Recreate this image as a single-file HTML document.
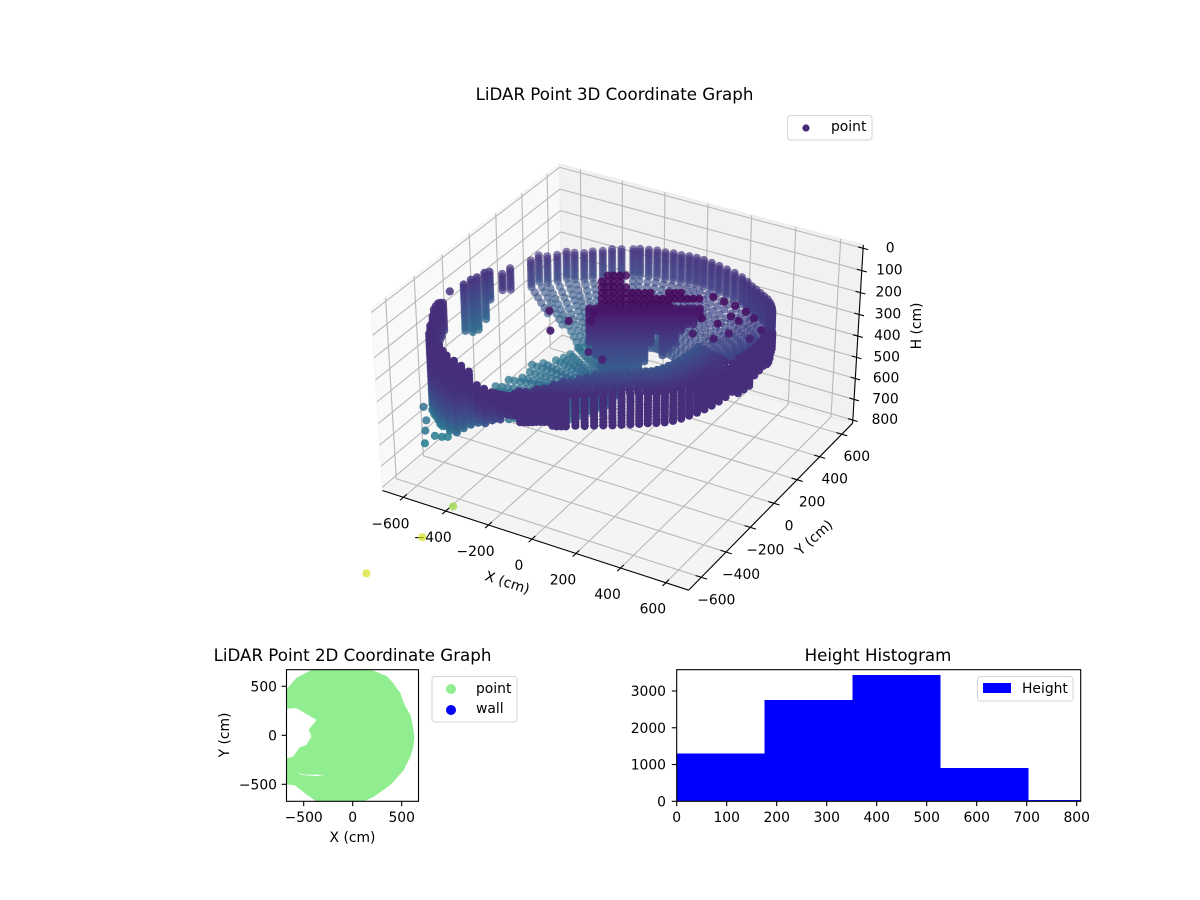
<!DOCTYPE html>
<html lang="en">
<head>
<meta charset="utf-8">
<title>LiDAR Point Graphs</title>
<style>
html,body{margin:0;padding:0;background:#fff;}
svg{display:block;}
text{font-family:"DejaVu Sans","Liberation Sans",sans-serif;fill:#000;}
.t{font-size:16.67px;}
.l{font-size:13.89px;}
</style>
</head>
<body>
<svg id="fig" xmlns="http://www.w3.org/2000/svg" width="1200" height="900" viewBox="0 0 1200 900">
  <defs>
    <clipPath id="clip2d"><rect x="286.5" y="669.7" width="132" height="131.6"/></clipPath>
    <clipPath id="cliphist"><rect x="676.7" y="669.7" width="404" height="131.6"/></clipPath>
  </defs>
  <g id="g3dback"></g>
  <g id="g3dticks"></g>
  <g id="g3dpoints"></g>
  <text class="t" x="614.5" y="100" text-anchor="middle">LiDAR Point 3D Coordinate Graph</text>
  <text class="l" text-anchor="middle" transform="translate(506,587) rotate(18)">X (cm)</text>
  <text class="l" text-anchor="middle" transform="translate(817,541) rotate(-42)">Y (cm)</text>
  <text class="l" text-anchor="middle" transform="translate(921,326) rotate(-90)">H (cm)</text>
  <g>
    <rect x="787.5" y="115.5" width="84.5" height="24.5" rx="3" fill="#fff" fill-opacity=".8" stroke="#d5d5d5"/>
    <circle cx="806" cy="128" r="3.6" fill="#472c7b"/>
    <text class="l" x="831" y="131">point</text>
  </g>

  <g id="g2d"></g>
  <text class="t" x="352.5" y="661" text-anchor="middle">LiDAR Point 2D Coordinate Graph</text>
  <text class="l" x="352.5" y="842" text-anchor="middle">X (cm)</text>
  <text class="l" text-anchor="middle" transform="translate(229,735) rotate(-90)">Y (cm)</text>
  <g>
    <rect x="432" y="676.5" width="85" height="45.5" rx="3" fill="#fff" stroke="#d5d5d5"/>
    <circle cx="451" cy="689" r="5" fill="#90ee90"/>
    <circle cx="451" cy="710" r="5" fill="#0000ff"/>
    <text class="l" x="476" y="693">point</text>
    <text class="l" x="476" y="713">wall</text>
  </g>

  <g id="ghist"></g>
  <text class="t" x="878" y="661" text-anchor="middle">Height Histogram</text>
  <g>
    <rect x="977.5" y="676.5" width="95.5" height="24.5" rx="3" fill="#fff" fill-opacity=".9" stroke="#d5d5d5"/>
    <rect x="983" y="683" width="28" height="10" fill="#0000ff"/>
    <text class="l" x="1022" y="693">Height</text>
  </g>
</svg>
<script>
// ---------- 3D tick values ----------
const xTicks3d = [-600,-400,-200,0,200,400,600];
const yTicks3d = [-600,-400,-200,0,200,400,600];
const hTicks3d = [0,100,200,300,400,500,600,700,800];

// ---------- rim / wall scans (polar, cm) ----------
const depthSteps = [0,14,28,42,56,70,84,98,112,126,140,154,168,182,196,210,224,238,252,266,280,294,308,322,336,350,364];
const wallAz = [27,24,21,18,15,12,9,6,3,0,-3,-6,-9,-12,-15,-18,-21,-24,-27,-30,-33,-36,-39,-42,-45,-48,-51,-54,-57,-60,-63,-66,-69,-72,-75,-78,-81,-84,-87,-90,-93,-96,-99,-102,-105,-107.5,-110,-112.5,-115,-117.5,-120,-122.5,-125,-127.5,-130,-132.5,-135,-137.5,-140,-142.5,-145,-147.5,-150,-152.5,-155,-157.5,-160,-79.5,-82.5,-85.5,-88.5,-91.5,-94.5,-97.5,-100.5,-103.5];
const wallR = [585,590,595,600,605,610,615,622,630,630,630,630,630,630,630,630,630,630,630,630,631,631,632,632,632,634,636,640,644,648,652,656,660,668,672,680,684,680,678,676,680,682,686,692,700,710,720,732,745,757,770,770,770,768,765,765,765,762,760,752,745,740,735,730,725,722,718,682,682,679,677,678,681,684,689,696];
const wallTop = [225,205,185,165,150,130,112,95,85,76,80,85,88,90,92,100,110,118,125,131,136,140,145,148,149,146,142,140,138,137,137,137,138,139,140,145,150,155,165,178,188,198,205,210,212,206,200,150,135,125,115,112,105,115,130,160,170,165,165,150,160,145,132,135,141,155,173,147,152,160,171,183,193,201,207,211];
const wallCount = [3,4,6,6,6,7,9,10,10,10,10,10,12,12,12,10,10,10,10,10,10,10,10,10,10,10,10,10,10,10,10,10,10,10,10,10,10,9,9,9,9,7,7,9,10,12,13,18,21,24,25,25,27,27,26,24,24,24,24,25,27,19,16,15,13,12,10,10,10,9,9,9,9,7,7,9];
const wallTone = [.13,.13,.13,.13,.13,.13,.13,.13,.13,.13,.13,.13,.13,.13,.13,.13,.13,.13,.13,.13,.13,.13,.13,.13,.13,.13,.13,.13,.13,.13,.13,.13,.13,.13,.13,.13,.13,.14,.14,.14,.14,.14,.15,.2,.24,.27,.3,.32,.34,.36,.38,.38,.4,.4,.4,.4,.4,.4,.4,.4,.42,.25,.2,.2,.18,.18,.17,.13,.14,.14,.14,.14,.14,.15,.17,.22];
// inward band behind the front wall
const bandAz = [-18,-21,-24,-27,-30,-33,-36,-39,-42,-45,-48,-51,-54,-57,-60,-63,-66,-69,-72,-75,-78,-81,-84,-87,-90,-93,-96,-99];
const bandCount = [7,7,7,7,7,7,7,7,7,7,7,7,7,7,7,7,7,7,7,6,6,5,5,4,3,3,2,2];
const bandDr = [40,65,90,115,140,165,190];
const bandTone = [.14,.15,.17,.19,.21,.23,.25];

// ---------- back fan + dome scans ----------
const fanDr = [0,0,0,0,0,0,0,0,0,0,0,30,60,90,120,150,180,210,240,270,300,330,360];
const fanDH = [0,12.5,25,37.5,50,62.5,75,87.5,100,112.5,125,135,145,155,165,175,185,195,205,215,225,235,245];
const fanAz = [163,159,148,144.4,142,139,136,134,131.4,128.8,125.8,122.9,120,116.2,114,111,108,105,102,99,96,93,90,87,84,81,78,75,72,69,66,63,60,57,54,51,48,45,42,39,36,33,30];
const fanR = [715,725,800,834,825,822,832,808,786,782,770,772,762,747,739,723,710,700,695,688,685,680,675,678,680,684,690,695,690,682,676,670,665,660,652,642,632,622,612,600,590,585,585];
const fanTop = [262,258,300,305,312,312,310,306,300,294,288,282,277,268,261,254,247,245,242,240,236,233,231,236,240,246,252,260,265,268,266,263,260,255,250,243,236,230,220,210,200,185,178];
const fanCount = [7,9,16,19,23,23,23,23,23,23,23,23,23,23,23,23,23,23,23,23,23,23,23,23,23,23,23,23,23,23,23,23,23,23,23,23,19,19,19,17,17,17,13];
const fanTone = [.2,.22,.33,.36,.36,.36,.36,.36,.36,.35,.35,.34,.34,.33,.32,.32,.31,.3,.3,.28,.28,.26,.26,.26,.26,.25,.25,.25,.24,.24,.24,.24,.24,.24,.24,.24,.24,.24,.24,.24,.24,.24,.24];

// ---------- floor scans ----------
const floorAz = [120,126,132,138,144,150,156,162,168,174,180,186,192,198,204,210,216,222,228,234,240,246];
const floorOut = [470,470,465,455,440,420,402,400,430,450,430,440,480,520,500,495,490,480,470,390,330,280];
const floorH = [545,540,550,545,540,548,542,538,546,540,545,550,542,548,540,545,550,542,548,545,540,545];
const floorStep = [0,25,50,75,100,125,150,175,200,225,250,275,300,325,350,375,400,425];

// ---------- central body columns (cm) ----------
const pillarX = [-84,-63,-42,-21,-1,20,41,61,82,103,124,144,165,186,206,227,248,268,289,-611,-607,-597,-590,-578];
const pillarY = [-106,-94,-82,-70,-58,-46,-34,-22,-10,2,14,26,38,50,62,74,86,98,110,-188,-141,-113,-67,-49];
const pillarTop = [100,100,100,100,100,100,100,100,100,100,100,100,100,100,100,100,100,100,100,100,100,100,100,100];
const pillarCount = [12,16,20,22,22,22,22,20,20,18,12,8,16,14,12,8,6,6,4,16,18,18,16,10];
const pillarStep = 14;

// ---------- dark cluster near the sensor ----------
const clusterX = [-154,-133,-113,-92,-151,-130,-110,-89,-128,-107,-87,-66,-45,-104,-83,-63,-42,-21,-1,20,41,61,124,144,165,-81,-60,-40,-19,2,22,43,64,85,105,126,147,167,188,209,229,250,-58,-37,-17,4,25,45,66,87,108,128,149,170];
const clusterY = [159,171,183,195,106,118,130,142,66,78,90,102,114,26,38,50,62,74,86,98,110,122,158,170,182,-15,-3,9,21,33,45,57,69,81,93,105,117,129,141,153,165,177,-56,-44,-32,-20,-8,4,16,28,40,52,64,76];

// ---------- stray returns ----------
const strayX = [290,345,398,456,507,577,465,424,406,333,479,448,359,569,-210,-104,-127,-27,-48,83,157,-629];
const strayY = [218,205,198,178,147,80,101,116,41,47,-4,-70,-74,0,-198,-229,-328,-189,-130,-395,-418,-262];
const strayH = [100,100,100,100,100,100,100,100,100,100,100,100,100,100,100,100,100,100,100,100,100,100];
const strayTone = [.03,.03,.04,.05,.06,.08,.06,.05,.05,.05,.08,.08,.08,.1,.06,.06,.08,.06,.05,.1,.1,.15];
const tealX = [-652,-609,-587,-548,-498,-494,-466,-446];
const tealY = [-451,-453,-531,-598,-678,-612,-605,-593];
const tealH = [540,540,540,540,540,540,540,540];
const tealTone = [.36,.36,.38,.38,.42,.42,.42,.42];
const farX = [-278,-340,-398];
const farY = [-827,-958,-1261];
const farH = [680,770,780];
const farTone = [.84,.94,.94];

// ---------- 2D footprint ----------
const hullX = [-404,178,262,349,415,486,517,538,589,612,630,619,589,551,520,466,400,313,212,110,-370,-473,-592,-678,-678,-610,-541,-473,-421,-449,-370,-575,-678,-678,-622,-575,-486];
const hullY = [675,675,639,603,531,431,344,295,209,105,-14,-116,-219,-293,-356,-415,-493,-558,-630,-675,-675,-603,-510,-500,-236,-219,-123,-99,-14,55,158,277,270,466,531,586,633];
const slitX = [-558,-524,-370,-284,-370,-507];
const slitY = [-381,-405,-415,-405,-401,-401];
const ticks2d = [-500,0,500];

// ---------- histogram ----------
const binEdges = [0,176,352,528,704,880];
const binCounts = [1305,2755,3435,906,35];
const histXTicks = [0,100,200,300,400,500,600,700,800];
const histYTicks = [0,1000,2000,3000];

// ---------- helpers ----------
const NS = 'http://www.w3.org/2000/svg';
const fmt = v => v < 0 ? '\u2212' + Math.abs(v) : String(v);
function line(parent, x1, y1, x2, y2, stroke, w, name) {
  const el = document.createElementNS(NS, 'line');
  el.setAttribute('x1', x1.toFixed(2));
  el.setAttribute('y1', y1.toFixed(2));
  el.setAttribute('x2', x2.toFixed(2));
  el.setAttribute('y2', y2.toFixed(2));
  el.setAttribute('stroke', stroke);
  el.setAttribute('stroke-width', w);
  
  
  parent.appendChild(el);
  return el;
}
function label(parent, x, y, str, anchor, name) {
  const el = document.createElementNS(NS, 'text');
  el.setAttribute('class', 'l');
  el.setAttribute('x', x.toFixed(2));
  el.setAttribute('y', y.toFixed(2));
  el.setAttribute('text-anchor', anchor);
  
  
  el.textContent = str;
  parent.appendChild(el);
  return el;
}
function poly(parent, pts, fill, stroke, name) {
  const el = document.createElementNS(NS, 'polygon');
  el.setAttribute('points', pts.map(p => p[0].toFixed(2) + ',' + p[1].toFixed(2)).join(' '));
  el.setAttribute('fill', fill);
  el.setAttribute('stroke', stroke);
  
  
  parent.appendChild(el);
  return el;
}
const stops = [[68,1,84],[72,36,117],[65,68,135],[53,95,141],[42,120,142],[33,145,140],[34,168,132],[68,191,112],[122,209,81],[189,223,38],[253,231,37]];
function viridis(t) {
  t = Math.max(0, Math.min(.9999, t)) * 10;
  const i = Math.floor(t), f = t - i, a = stops[i], b = stops[i + 1];
  return 'rgb(' + [0,1,2].map(k => Math.round(a[k] + (b[k] - a[k]) * f)).join(',') + ')';
}

// ---------- 3D axis functions ----------
const XMAX = 700, HLOW = -15, HHIGH = 815, HALF = .5714, HALFZ = .4;
function proj(X, Y, H) {
  const qx = X / XMAX * HALF, qy = Y / XMAX * HALF;
  const qz = ((HLOW + HHIGH) / 2 - H) / ((HHIGH - HLOW) / 2) * HALFZ;
  const xv = .866025 * qx + .5 * qy;
  const yv = -.28679 * qx + .49673 * qy + .81915 * qz;
  const d = .40958 * qx - .70942 * qy + .57358 * qz;
  const p = 1 / (10 - d);
  return { x: 621.5 + 3080 * xv * p, y: 368.4 - 2743 * yv * p, d: d };
}
function polar(az, r) {
  const a = az * Math.PI / 180;
  return [r * Math.cos(a), r * Math.sin(a)];
}

// ---------- panes and grid ----------
const back = document.getElementById('g3dback');
const P = (X, Y, H) => { const q = proj(X, Y, H); return [q.x, q.y]; };
poly(back, [P(-XMAX,-XMAX,HHIGH),P(XMAX,-XMAX,HHIGH),P(XMAX,XMAX,HHIGH),P(-XMAX,XMAX,HHIGH)], '#f4f4f4', '#f0f0f0', 'floor-pane');
poly(back, [P(-XMAX,-XMAX,HHIGH),P(-XMAX,XMAX,HHIGH),P(-XMAX,XMAX,HLOW),P(-XMAX,-XMAX,HLOW)], '#f9f9f9', '#f3f3f3', 'x-wall-pane');
poly(back, [P(-XMAX,XMAX,HHIGH),P(XMAX,XMAX,HHIGH),P(XMAX,XMAX,HLOW),P(-XMAX,XMAX,HLOW)], '#f1f1f1', '#ebebeb', 'y-wall-pane');
const GRID = '#b8b8b8';
function gridPath(a, b, c) {
  line(back, a[0], a[1], b[0], b[1], GRID, 1.1, 'grid-line');
  line(back, b[0], b[1], c[0], c[1], GRID, 1.1, 'grid-line');
}
xTicks3d.forEach(t => gridPath(P(t,-XMAX,HHIGH), P(t,XMAX,HHIGH), P(t,XMAX,HLOW)));
yTicks3d.forEach(t => gridPath(P(XMAX,t,HHIGH), P(-XMAX,t,HHIGH), P(-XMAX,t,HLOW)));
hTicks3d.forEach(t => gridPath(P(-XMAX,-XMAX,t), P(-XMAX,XMAX,t), P(XMAX,XMAX,t)));

// ---------- axes lines, ticks, labels ----------
const tk = document.getElementById('g3dticks');
function seg(a, b, name) { line(tk, a[0], a[1], b[0], b[1], '#000', 1.1, name); }
seg(P(-XMAX,-XMAX,HHIGH), P(XMAX,-XMAX,HHIGH), '3d-x-axis-line');
seg(P(XMAX,-XMAX,HHIGH), P(XMAX,XMAX,HHIGH), '3d-y-axis-line');
seg(P(XMAX,XMAX,HHIGH), P(XMAX,XMAX,HLOW), '3d-h-axis-line');
xTicks3d.forEach(t => {
  seg(P(t,-XMAX+25,HHIGH), P(t,-XMAX-25,HHIGH), '3d-x-tick');
  const q = proj(t,-XMAX,HHIGH);
  label(tk, q.x - 13, q.y + 31, fmt(t), 'middle', '3d-x-tick-label');
});
yTicks3d.forEach(t => {
  seg(P(XMAX-25,t,HHIGH), P(XMAX+25,t,HHIGH), '3d-y-tick');
  const q = proj(XMAX,t,HHIGH);
  label(tk, q.x + 15, q.y + 27, fmt(t), 'middle', '3d-y-tick-label');
});
hTicks3d.forEach(t => {
  seg(P(XMAX-22,XMAX,t), P(XMAX+22,XMAX,t), '3d-h-tick');
  const q = proj(XMAX,XMAX,t);
  label(tk, q.x + 27 + t / 160, q.y + 4, fmt(t), 'middle', '3d-h-tick-label');
});

// ---------- assemble point cloud ----------
const cloud = [];
function add(X, Y, H, tone) {
  const q = proj(X, Y, H);
  cloud.push({ x: q.x, y: q.y, d: q.d, tone: tone });
}
wallAz.forEach((az, i) => {
  const xy = polar(az, wallR[i]);
  for (let k = 0; k < wallCount[i]; k++) {
    const f = k / Math.max(1, wallCount[i] - 1);
    add(xy[0], xy[1], wallTop[i] + depthSteps[k], .13 + (wallTone[i] - .13) * f * f * f);
  }
});
bandAz.forEach((az, i) => {
  const w = wallAz.indexOf(az);
  for (let k = 0; k < bandCount[i]; k++) {
    const b = polar(az, wallR[w] - bandDr[k]);
    add(b[0], b[1], wallTop[w] + 10, bandTone[k]);
  }
});
fanAz.forEach((az, i) => {
  for (let k = 0; k < fanCount[i]; k++) {
    const f = k / 22;
    const xy = polar(az, fanR[i] - fanDr[k]);
    add(xy[0], xy[1], fanTop[i] + fanDH[k], .15 + (fanTone[i] - .15) * f);
  }
});
floorAz.forEach((az, i) => {
  floorStep.forEach(s => {
    const r = floorOut[i] - s;
    if (r < 40) return;
    const xy = polar(az, r);
    add(xy[0], xy[1], floorH[i], .27 + .11 * r / floorOut[i]);
  });
});
pillarX.forEach((X, i) => {
  for (let k = 0; k < pillarCount[i]; k++) {
    add(X, pillarY[i], pillarTop[i] + k * pillarStep, i < 19 ? .06 + k * .012 : .15 + k * .012);
  }
});
clusterX.forEach((X, i) => add(X, clusterY[i], 100, .02));
strayX.forEach((X, i) => add(X, strayY[i], strayH[i], strayTone[i]));
tealX.forEach((X, i) => add(X, tealY[i], tealH[i], tealTone[i]));
farX.forEach((X, i) => add(X, farY[i], farH[i], farTone[i]));

cloud.sort((a, b) => a.d - b.d);
const gp = document.getElementById('g3dpoints');
cloud.forEach(p => {
  const el = document.createElementNS(NS, 'circle');
  const n = Math.max(0, Math.min(1, (p.d + .55) / 1.0));
  el.setAttribute('cx', p.x.toFixed(1));
  el.setAttribute('cy', p.y.toFixed(1));
  el.setAttribute('r', 4.1);
  el.setAttribute('fill', viridis(p.tone));
  el.setAttribute('fill-opacity', p.tone > .7 ? .72 : (.6 + .4 * n).toFixed(2));
  
  
  gp.appendChild(el);
});

// ---------- 2D chart ----------
const g2 = document.getElementById('g2d');
const x2 = v => 352.7 + .098 * v;
const y2 = v => 735.3 - .098 * v;
const clipped = document.createElementNS(NS, 'g');
clipped.setAttribute('clip-path', 'url(#clip2d)');
g2.appendChild(clipped);
poly(clipped, hullX.map((v, i) => [x2(v), y2(hullY[i])]), '#90ee90', 'none', 'point-footprint');
poly(clipped, slitX.map((v, i) => [x2(v), y2(slitY[i])]), '#fff', 'none', 'footprint-gap');
const frame2 = document.createElementNS(NS, 'rect');
frame2.setAttribute('x', 286.5);
frame2.setAttribute('y', 669.7);
frame2.setAttribute('width', 132);
frame2.setAttribute('height', 131.6);
frame2.setAttribute('fill', 'none');
frame2.setAttribute('stroke', '#000');
frame2.setAttribute('stroke-width', 1.1);


g2.appendChild(frame2);
ticks2d.forEach(t => {
  line(g2, x2(t), 801.3, x2(t), 806.2, '#000', 1.1, '2d-x-tick');
  label(g2, x2(t), 822, fmt(t), 'middle', '2d-x-tick-label');
  line(g2, 281.6, y2(t), 286.5, y2(t), '#000', 1.1, '2d-y-tick');
  label(g2, 277, y2(t) + 5, fmt(t), 'end', '2d-y-tick-label');
});

// ---------- histogram ----------
const gh = document.getElementById('ghist');
const xh = v => 676.7 + .5 * v;
const yh = v => 801.3 - .03677 * v;
const clipH = document.createElementNS(NS, 'g');
clipH.setAttribute('clip-path', 'url(#cliphist)');
gh.appendChild(clipH);
binCounts.forEach((c, i) => {
  const el = document.createElementNS(NS, 'rect');
  el.setAttribute('x', xh(binEdges[i]).toFixed(2));
  el.setAttribute('y', yh(c).toFixed(2));
  el.setAttribute('width', (xh(binEdges[i + 1]) - xh(binEdges[i])).toFixed(2));
  el.setAttribute('height', (yh(0) - yh(c)).toFixed(2));
  el.setAttribute('fill', '#0000ff');
  el.setAttribute('shape-rendering', 'crispEdges');
  
  
  clipH.appendChild(el);
});
const frameH = document.createElementNS(NS, 'rect');
frameH.setAttribute('x', 676.7);
frameH.setAttribute('y', 669.7);
frameH.setAttribute('width', 404);
frameH.setAttribute('height', 131.6);
frameH.setAttribute('fill', 'none');
frameH.setAttribute('stroke', '#000');
frameH.setAttribute('stroke-width', 1.1);


gh.appendChild(frameH);
histXTicks.forEach(t => {
  line(gh, xh(t), 801.3, xh(t), 806.2, '#000', 1.1, 'histogram-x-tick');
  label(gh, xh(t), 822, fmt(t), 'middle', 'histogram-x-tick-label');
});
histYTicks.forEach(t => {
  line(gh, 671.8, yh(t), 676.7, yh(t), '#000', 1.1, 'histogram-y-tick');
  label(gh, 666, yh(t) + 5, fmt(t), 'end', 'histogram-y-tick-label');
});
</script>
</body>
</html>
